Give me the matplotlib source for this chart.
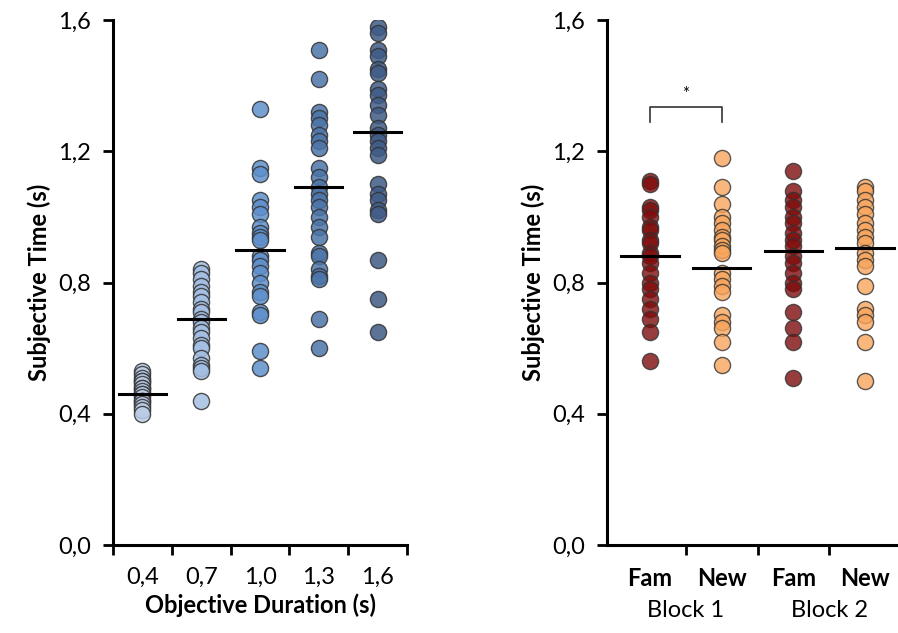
import numpy as np
import matplotlib
matplotlib.use("Agg")
import matplotlib.pyplot as plt
from matplotlib.transforms import blended_transform_factory

plt.rcParams['font.family'] = ['Lato', 'DejaVu Sans']

# -- left panel: subjective time per objective duration ----------------------
durations = ["0,4", "0,7", "1,0", "1,3", "1,6"]
dur_04 = [0.53, 0.52, 0.51, 0.50, 0.50, 0.49, 0.48, 0.48, 0.47, 0.46, 0.46,
          0.45, 0.44, 0.44, 0.43, 0.42, 0.41, 0.40]
dur_07 = [0.84, 0.83, 0.81, 0.79, 0.77, 0.76, 0.74, 0.72, 0.71, 0.69, 0.68,
          0.66, 0.65, 0.63, 0.61, 0.60, 0.57, 0.55, 0.54, 0.53, 0.44]
dur_10 = [1.33, 1.15, 1.13, 1.05, 1.03, 1.01, 0.97, 0.95, 0.94, 0.93, 0.88,
          0.87, 0.85, 0.83, 0.80, 0.77, 0.76, 0.71, 0.70, 0.59, 0.54]
dur_13 = [1.51, 1.42, 1.32, 1.30, 1.28, 1.25, 1.23, 1.21, 1.15, 1.12, 1.09,
          1.07, 1.05, 1.03, 1.00, 0.97, 0.94, 0.89, 0.88, 0.84, 0.82, 0.81,
          0.69, 0.60]
dur_16 = [1.58, 1.56, 1.51, 1.49, 1.45, 1.44, 1.39, 1.37, 1.34, 1.31, 1.27,
          1.25, 1.23, 1.21, 1.19, 1.10, 1.07, 1.05, 1.02, 1.01, 0.87, 0.75,
          0.65]
dur_means = [0.46, 0.69, 0.90, 1.09, 1.26]
dur_colors = ["#bccde8", "#a4bfe3", "#5f90cc", "#4c74a9", "#3f5b86"]

# -- right panel: familiar vs new items per block ----------------------------
cond_labels = ["Fam", "New", "Fam", "New"]
block_labels = ["Block 1", "Block 2"]
fam_b1 = [1.11, 1.10, 1.03, 1.02, 1.00, 0.97, 0.96, 0.93, 0.92, 0.89, 0.88,
          0.86, 0.83, 0.80, 0.78, 0.75, 0.72, 0.69, 0.65, 0.56]
new_b1 = [1.18, 1.09, 1.04, 1.00, 0.98, 0.96, 0.94, 0.93, 0.91, 0.90, 0.89,
          0.83, 0.81, 0.79, 0.77, 0.70, 0.68, 0.66, 0.62, 0.55]
fam_b2 = [1.14, 1.08, 1.05, 1.03, 1.00, 0.98, 0.95, 0.93, 0.91, 0.88, 0.86,
          0.83, 0.80, 0.78, 0.71, 0.66, 0.62, 0.51]
new_b2 = [1.09, 1.08, 1.05, 1.03, 1.01, 0.98, 0.96, 0.94, 0.92, 0.89, 0.87,
          0.85, 0.79, 0.72, 0.70, 0.68, 0.62, 0.50]
cond_means = [0.88, 0.845, 0.895, 0.905]
cond_colors = ["#7e0c0c", "#f8a55c", "#7e0c0c", "#f8a55c"]

yticks = [0.0, 0.4, 0.8, 1.2, 1.6]
ytick_labels = ["0,0", "0,4", "0,8", "1,2", "1,6"]


def style_axis(ax, n):
    ax.set_ylim(0, 1.6)
    ax.set_yticks(yticks)
    ax.set_yticklabels(ytick_labels)
    for s in ("top", "right"):
        ax.spines[s].set_visible(False)
    for s in ("left", "bottom"):
        ax.spines[s].set_linewidth(2.2)
    # boundaries carry the tick marks, centres carry the labels
    ax.set_xticks(np.arange(0.5, n + 1.0, 1.0))
    ax.set_xticklabels([])
    ax.set_xticks(np.arange(1, n + 1), minor=True)
    ax.tick_params(axis="both", which="major", direction="out", length=7,
                   width=2, labelsize=17, pad=9)
    ax.tick_params(axis="x", which="minor", length=0, labelsize=17, pad=16)
    ax.set_ylabel("Subjective Time (s)", fontsize=17, fontweight="bold")


def strip(ax, groups, means, colors, alpha):
    for i, (vals, m, c) in enumerate(zip(groups, means, colors), start=1):
        ax.scatter(np.full(len(vals), i), vals, s=135, color=c, alpha=alpha,
                   edgecolor="#333333", linewidth=1.0, zorder=2)
        ax.plot([i - 0.4, i + 0.4], [m, m], color="black", lw=2.2, zorder=3)


fig = plt.figure(figsize=(8.98, 6.33), dpi=100)

ax1 = fig.add_axes([113 / 898, 88 / 633, 294 / 898, 525 / 633])
strip(ax1, [dur_04, dur_07, dur_10, dur_13, dur_16], dur_means, dur_colors, 0.85)
ax1.set_xlim(0.5, 5.5)
style_axis(ax1, 5)
ax1.set_xticklabels(durations, minor=True)
ax1.set_xlabel("Objective Duration (s)", fontsize=17, fontweight="bold",
               labelpad=4)
ax1.yaxis.set_label_coords(-0.21, 0.5)

ax2 = fig.add_axes([607 / 898, 88 / 633, 294 / 898, 525 / 633])
strip(ax2, [fam_b1, new_b1, fam_b2, new_b2], cond_means, cond_colors, 0.8)
ax2.set_xlim(0.4, 4.4)
style_axis(ax2, 4)
ax2.set_xticks(np.arange(1.5, 4.5, 1.0))
ax2.set_xticklabels([])
ax2.set_xticklabels(cond_labels, minor=True, fontweight="bold")
ax2.yaxis.set_label_coords(-0.21, 0.5)

trans = blended_transform_factory(ax2.transData, ax2.transAxes)
for x, lab in zip([1.5, 3.5], block_labels):
    ax2.text(x, -0.125, lab, transform=trans, ha="center", va="center",
             fontsize=17)

# significance bracket between Fam and New in block 1
ax2.plot([1, 1, 2, 2], [1.29, 1.335, 1.335, 1.29], color="#333333", lw=1.2)
ax2.text(1.5, 1.35, "*", ha="center", va="bottom", fontsize=12)

fig.savefig("out.png", dpi=100)
